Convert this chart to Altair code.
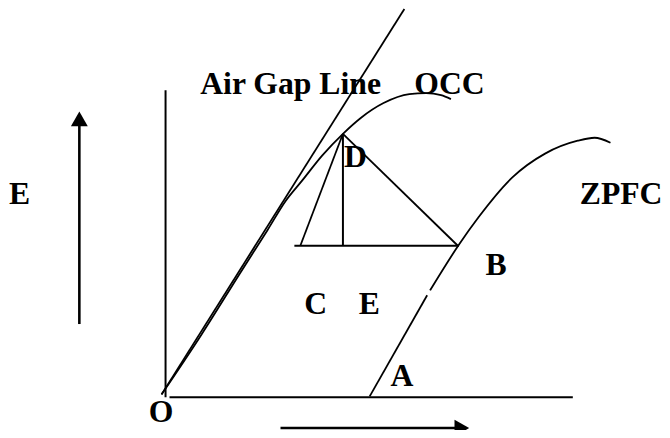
import altair as alt
import pandas as pd

# Values (x to the right, y downward, in picture units)
vert_axis_x = [167, 167]
vert_axis_y = [89, 399]
horiz_axis_x = [171, 578]
horiz_axis_y = [399, 399]
air_gap_x = [163, 408]
air_gap_y = [396, 7]
occ_x = [163, 203, 242, 270, 288, 305, 325, 346, 364, 387, 413, 430, 445, 455]
occ_y = [396, 336, 274, 230, 201, 180, 155, 133, 117, 102, 93, 92, 94, 98]
zpfc_lower_x = [373, 431]
zpfc_lower_y = [398, 296]
zpfc_upper_x = [434, 463, 483, 517, 550, 583, 600, 616]
zpfc_upper_y = [291, 245, 217, 177, 153, 140, 137, 142]
tri_base_x = [297, 463]
tri_base_y = [246, 246]
tri_vert_x = [346, 346]
tri_vert_y = [133, 246]
tri_left_x = [346, 303]
tri_left_y = [133, 246]
tri_right_x = [346, 462]
tri_right_y = [133, 246]
e_arrow_x = [80, 80]
e_arrow_y = [325, 124]
i_arrow_x = [283, 461]
i_arrow_y = [430, 430]

head_x = [80, 466]
head_y = [118, 430]
head_shape = ["triangle-up", "triangle-right"]

label_text = ["Air Gap Line", "OCC", "D", "E", "ZPFC", "B", "C", "E", "A", "O"]
label_x = [202, 418, 347, 9, 585, 490, 307, 362, 394, 150]
label_y = [93, 93, 167, 204, 204, 276, 315, 315, 388, 424]


def seg(name, xs, ys, width):
    return pd.DataFrame({"series": name, "order": list(range(len(xs))),
                         "x": xs, "y": ys, "w": width})


straight = pd.concat([
    seg("vaxis", vert_axis_x, vert_axis_y, 2.0),
    seg("haxis", horiz_axis_x, horiz_axis_y, 2.0),
    seg("airgap", air_gap_x, air_gap_y, 1.8),
    seg("zpfc_low", zpfc_lower_x, zpfc_lower_y, 1.8),
    seg("base", tri_base_x, tri_base_y, 2.0),
    seg("vert", tri_vert_x, tri_vert_y, 2.0),
    seg("left", tri_left_x, tri_left_y, 1.8),
    seg("right", tri_right_x, tri_right_y, 1.8),
    seg("earrow", e_arrow_x, e_arrow_y, 2.6),
    seg("iarrow", i_arrow_x, i_arrow_y, 2.6),
])
curves = pd.concat([
    seg("occ", occ_x, occ_y, 1.8),
    seg("zpfc_up", zpfc_upper_x, zpfc_upper_y, 1.8),
])
heads = pd.DataFrame({"x": head_x, "y": head_y, "shape": head_shape})
labels = pd.DataFrame({"text": label_text, "x": label_x, "y": label_y})

xs = alt.Scale(domain=[8, 668], nice=False, zero=False)
ys = alt.Scale(domain=[8, 430], nice=False, zero=False, reverse=True)
X = alt.X("x:Q", scale=xs, axis=None)
Y = alt.Y("y:Q", scale=ys, axis=None)

lines = alt.Chart(straight).mark_line(color="black", strokeCap="butt").encode(
    x=X, y=Y, detail="series:N", order="order:Q",
    strokeWidth=alt.StrokeWidth("w:Q", scale=None, legend=None),
)
curve_lines = alt.Chart(curves).mark_line(color="black", interpolate="monotone").encode(
    x=X, y=Y, detail="series:N", order="order:Q",
    strokeWidth=alt.StrokeWidth("w:Q", scale=None, legend=None),
)
arrowheads = alt.Chart(heads).mark_point(filled=True, color="black", opacity=1, size=290).encode(
    x=X, y=Y, shape=alt.Shape("shape:N", scale=None, legend=None),
)
text = alt.Chart(labels).mark_text(
    font="Liberation Serif", fontWeight="bold", fontSize=32, color="black",
    align="left", baseline="alphabetic",
).encode(x=X, y=Y, text="text:N")

chart = alt.layer(lines, curve_lines, arrowheads, text).properties(
    width=660, height=422, padding=0, autosize=alt.AutoSizeParams(type="none"),
    background="white",
).configure_view(stroke=None)

chart.save("out.html", embed_options={"renderer": "svg", "actions": False})
